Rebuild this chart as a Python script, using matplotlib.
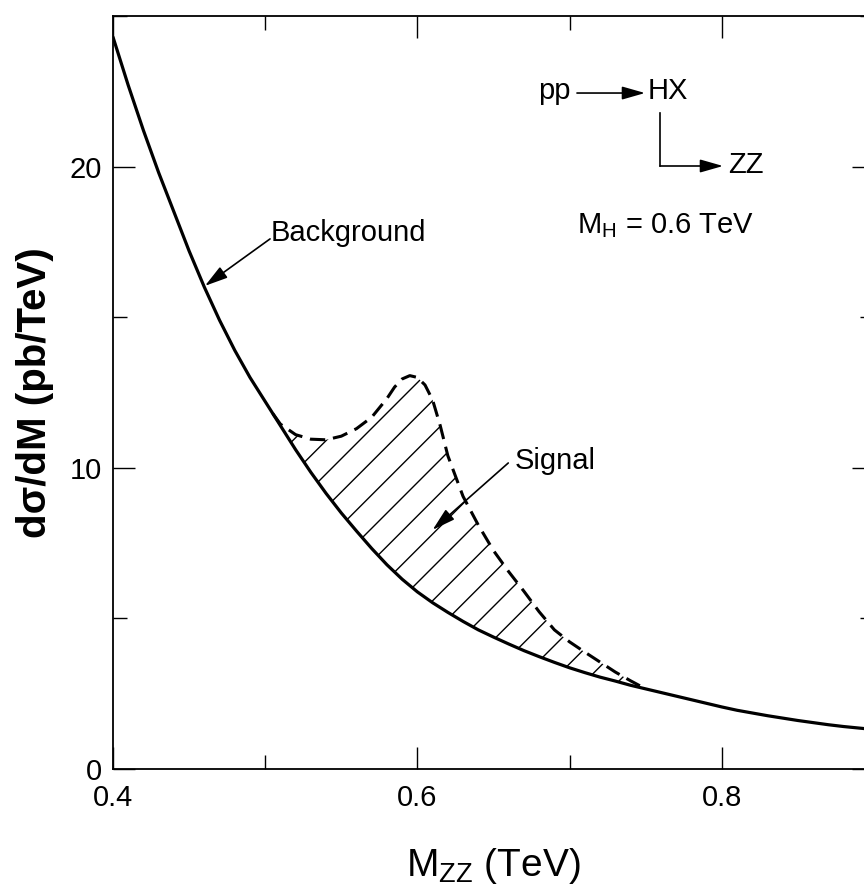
import numpy as np
import matplotlib
matplotlib.use("Agg")
from matplotlib import pyplot as plt
from matplotlib.ticker import MultipleLocator

plt.rcParams['font.family'] = ['Liberation Sans', 'DejaVu Sans']
plt.rcParams['mathtext.default'] = 'regular'
plt.rcParams['hatch.linewidth'] = 1.0

# background curve
bg_x = [0.40, 0.41, 0.42, 0.43, 0.44, 0.45, 0.46, 0.47, 0.48, 0.49,
        0.50, 0.51, 0.52, 0.53, 0.54, 0.55, 0.56, 0.57, 0.58, 0.59,
        0.60, 0.61, 0.62, 0.63, 0.64, 0.65, 0.66, 0.67, 0.68, 0.69,
        0.70, 0.71, 0.72, 0.73, 0.74, 0.75, 0.76, 0.77, 0.78, 0.79,
        0.80, 0.81, 0.82, 0.83, 0.84, 0.85, 0.86, 0.87, 0.88, 0.89, 0.90]
bg_y = [24.3, 22.7, 21.2, 19.8, 18.5, 17.2, 16.0, 14.9, 13.9, 13.0,
        12.2, 11.4, 10.6, 9.85, 9.15, 8.5, 7.9, 7.32, 6.78, 6.3,
        5.88, 5.52, 5.2, 4.9, 4.62, 4.38, 4.15, 3.93, 3.73, 3.54,
        3.36, 3.2, 3.05, 2.92, 2.78, 2.66, 2.54, 2.42, 2.3, 2.18,
        2.06, 1.95, 1.86, 1.77, 1.69, 1.61, 1.54, 1.47, 1.41, 1.36, 1.31]

# signal + background (dashed) and the background under it
sig_x = [0.505, 0.51, 0.52, 0.53, 0.54, 0.55, 0.56, 0.57, 0.58, 0.585,
         0.59, 0.595, 0.60, 0.605, 0.61, 0.615, 0.62, 0.63, 0.64, 0.65,
         0.66, 0.67, 0.68, 0.69, 0.70, 0.71, 0.72, 0.73, 0.74, 0.75]
sig_y = [11.8, 11.45, 11.1, 10.95, 10.93, 11.05, 11.3, 11.68, 12.3, 12.68,
         12.95, 13.06, 13.0, 12.75, 12.25, 11.4, 10.4, 9.05, 8.1, 7.25,
         6.55, 5.9, 5.22, 4.62, 4.22, 3.88, 3.55, 3.22, 2.93, 2.66]
sig_low = [11.8, 11.4, 10.6, 9.85, 9.15, 8.5, 7.9, 7.32, 6.78, 6.53,
           6.3, 6.08, 5.88, 5.7, 5.52, 5.35, 5.2, 4.9, 4.62, 4.38,
           4.15, 3.93, 3.73, 3.54, 3.36, 3.2, 3.05, 2.92, 2.78, 2.66]

fig = plt.figure(figsize=(8.64, 8.86), dpi=100)
ax = fig.add_axes([113 / 864, 117 / 886, 761 / 864, 753 / 886])

ax.fill_between(sig_x, sig_low, sig_y, facecolor='none', edgecolor='k',
                hatch='/', linewidth=0)
ax.plot(bg_x, bg_y, color='k', lw=2.3, solid_capstyle='round')
ax.plot(sig_x, sig_y, color='k', lw=2.2, linestyle=(0, (5, 2.6)))

ax.set_xlim(0.4, 0.9)
ax.set_ylim(0, 25)
ax.xaxis.set_major_locator(MultipleLocator(0.2))
ax.xaxis.set_minor_locator(MultipleLocator(0.1))
ax.yaxis.set_major_locator(MultipleLocator(10))
ax.yaxis.set_minor_locator(MultipleLocator(5))
ax.xaxis.set_major_formatter(plt.FuncFormatter(lambda v, p: '%.1f' % v))
ax.yaxis.set_major_formatter(plt.FuncFormatter(lambda v, p: '%d' % v))
ax.tick_params(which='both', direction='in', top=True, right=True,
               width=1.0, labelsize=21)
ax.tick_params(axis='x', pad=11)
ax.tick_params(axis='y', pad=8)
ax.tick_params(which='major', length=16)
ax.tick_params(which='minor', length=10)
for s in ax.spines.values():
    s.set_linewidth(1.3)

ax.set_xlabel('M$_{ZZ}$ (TeV)', fontsize=28, labelpad=24)
ax.set_ylabel('dσ/dM (pb/TeV)', fontsize=29, fontweight='bold', labelpad=11)

arr = dict(arrowstyle='-|>,head_length=0.7,head_width=0.2', color='k',
           lw=1.2, mutation_scale=20, shrinkA=0, shrinkB=0)
ax.text(0.5035, 17.8, 'Background', fontsize=21, va='center', ha='left')
ax.annotate('', xy=(0.4604, 16.04), xytext=(0.5032, 17.6), arrowprops=arr)
ax.annotate('', xy=(0.6100, 7.94), xytext=(0.6597, 10.16), arrowprops=arr)
ax.text(0.6641, 10.22, 'Signal', fontsize=21, va='center', ha='left')

# reaction sketch, in axes fractions
tr = ax.transAxes
ax.text(0.6018, 0.9004, 'pp', fontsize=21, ha='right', va='center', transform=tr)
ax.annotate('', xy=(0.6991, 0.8977), xytext=(0.6097, 0.8977), xycoords=tr,
            textcoords=tr, arrowprops=arr)
ax.text(0.703, 0.9004, 'HX', fontsize=21, ha='left', va='center', transform=tr)
ax.plot([0.7188, 0.7188], [0.8712, 0.8008], color='k', lw=1.2, transform=tr)
ax.annotate('', xy=(0.8016, 0.8008), xytext=(0.7188, 0.8008), xycoords=tr,
            textcoords=tr, arrowprops=arr)
ax.text(0.8082, 0.8021, 'ZZ', fontsize=21, ha='left', va='center', transform=tr)
ax.text(0.6097, 0.7118, 'M$_{H}$ = 0.6 TeV', fontsize=21, ha='left',
        va='baseline', transform=tr)

fig.savefig('out.png', dpi=100)
